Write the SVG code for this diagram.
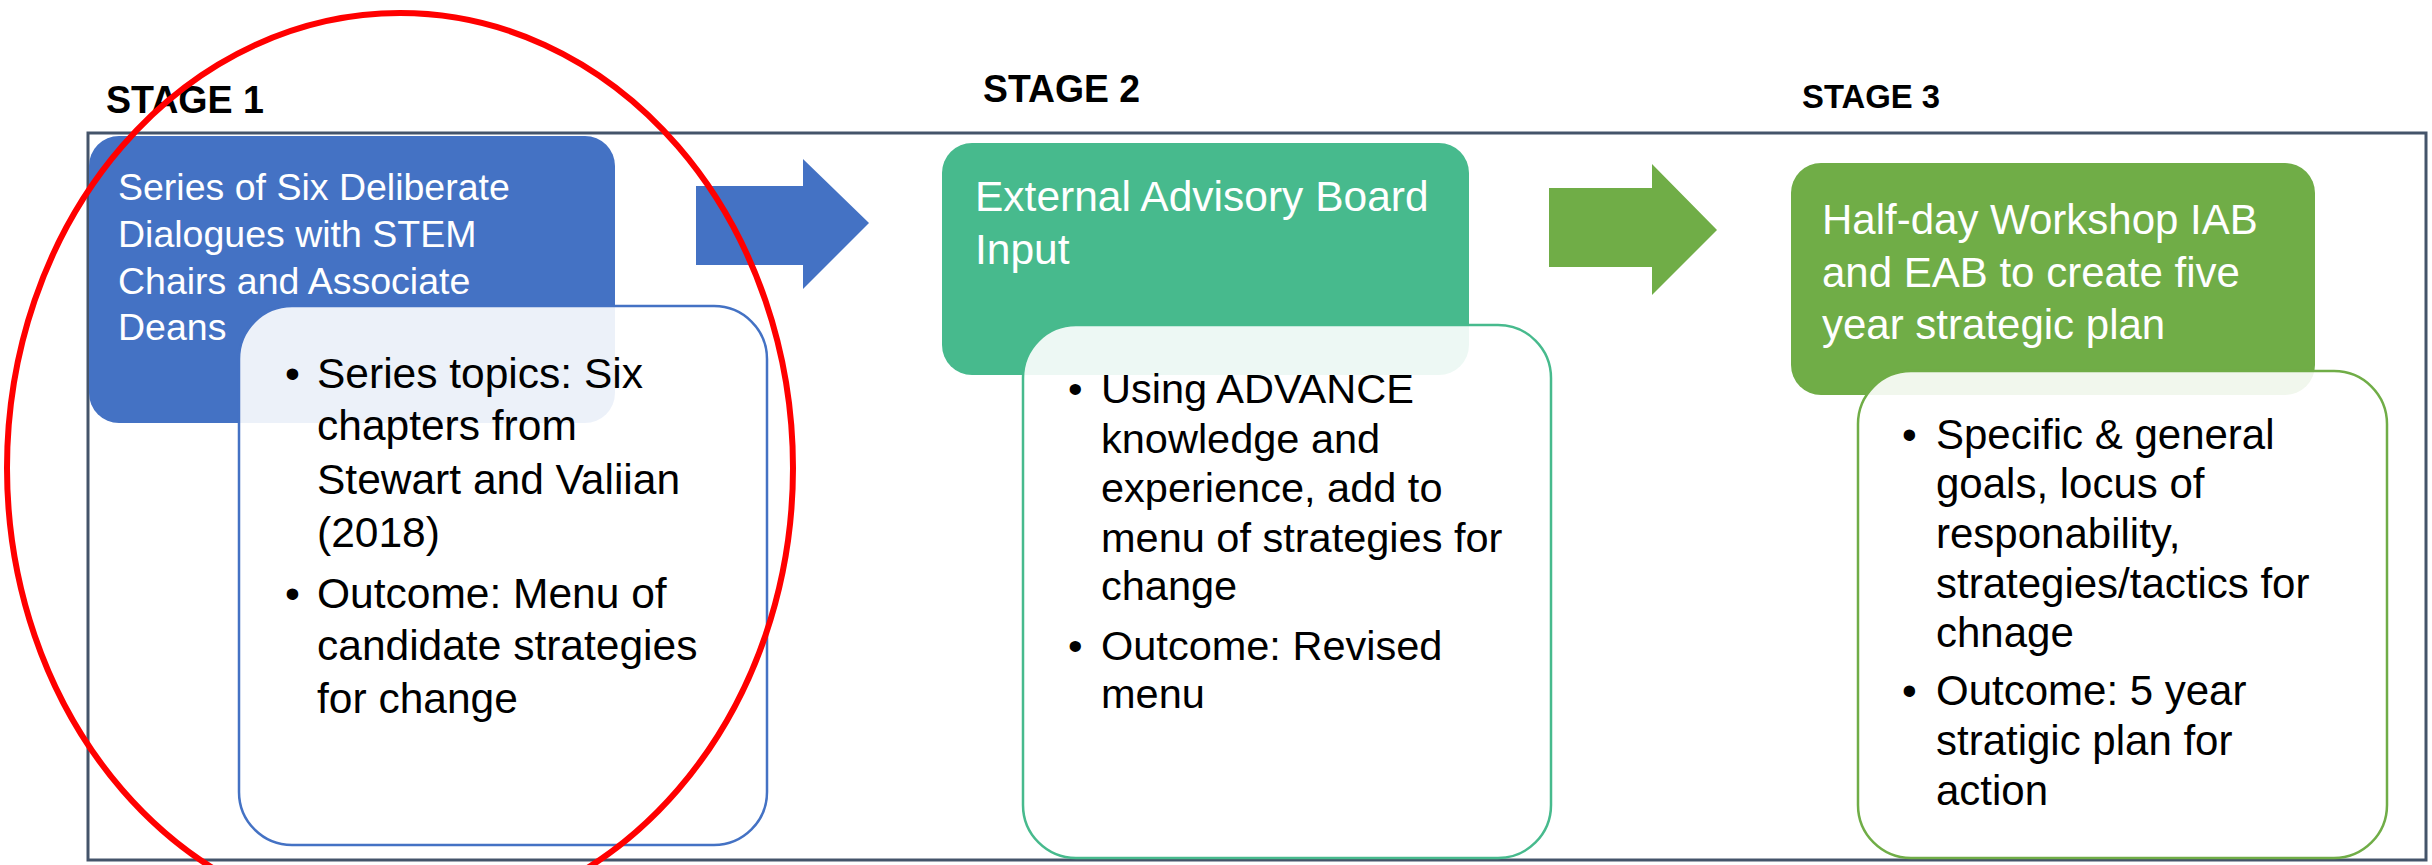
<svg xmlns="http://www.w3.org/2000/svg" width="2432" height="865" viewBox="0 0 2432 865">
<style>
text{font-family:"Liberation Sans",Arial,sans-serif}
.stage{font-weight:bold;fill:#000}
.title{fill:#fff}
.bul{fill:#000}
.frame{fill:#fff;stroke:#44546A;stroke-width:3}
</style>
<rect width="2432" height="865" fill="#fff"/>
<rect class="frame" x="88" y="133" width="2338" height="727"/>
<g id="labels">
<text class="stage" x="106" y="113" font-size="38" textLength="158" lengthAdjust="spacingAndGlyphs">STAGE 1</text>
<text class="stage" x="983" y="102" font-size="38" textLength="157" lengthAdjust="spacingAndGlyphs">STAGE 2</text>
<text class="stage" x="1802" y="108" font-size="33" textLength="138" lengthAdjust="spacingAndGlyphs">STAGE 3</text>
</g>
<g id="stage1">
<rect x="89" y="136" width="526" height="287" rx="30" fill="#4472C4"/>
<g font-size="37.5">
<text class="title" x="118" y="200">Series of Six Deliberate</text>
<text class="title" x="118" y="247">Dialogues with STEM</text>
<text class="title" x="118" y="294">Chairs and Associate</text>
<text class="title" x="118" y="340">Deans</text>
</g>
</g>
<g id="stage1-detail">
<rect x="239" y="306" width="528" height="539" rx="53" fill="#fff" fill-opacity="0.9" stroke="#4472C4" stroke-width="2.5"/>
<g font-size="42.5">
<text class="bul" x="285" y="388">•</text>
<text class="bul" x="317" y="388">Series topics: Six</text>
<text class="bul" x="317" y="440">chapters from</text>
<text class="bul" x="317" y="494">Stewart and Valiian</text>
<text class="bul" x="317" y="547">(2018)</text>
<text class="bul" x="285" y="608">•</text>
<text class="bul" x="317" y="608">Outcome: Menu of</text>
<text class="bul" x="317" y="660">candidate strategies</text>
<text class="bul" x="317" y="713">for change</text>
</g>
</g>
<g id="stage2">
<rect x="942" y="143" width="527" height="232" rx="30" fill="#47BA8D"/>
<g font-size="42.5">
<text class="title" x="975" y="211">External Advisory Board</text>
<text class="title" x="975" y="264">Input</text>
</g>
</g>
<g id="stage2-detail">
<rect x="1023" y="325" width="528" height="533" rx="53" fill="#fff" fill-opacity="0.9" stroke="#47BA8D" stroke-width="2.5"/>
<g font-size="41.5">
<text class="bul" x="1068" y="403">•</text>
<text class="bul" x="1101" y="403">Using ADVANCE</text>
<text class="bul" x="1101" y="453">knowledge and</text>
<text class="bul" x="1101" y="502">experience, add to</text>
<text class="bul" x="1101" y="552">menu of strategies for</text>
<text class="bul" x="1101" y="600">change</text>
<text class="bul" x="1068" y="660">•</text>
<text class="bul" x="1101" y="660">Outcome: Revised</text>
<text class="bul" x="1101" y="708">menu</text>
</g>
</g>
<g id="stage3">
<rect x="1791" y="163" width="524" height="232" rx="30" fill="#70AD47"/>
<g font-size="42">
<text class="title" x="1822" y="234">Half-day Workshop IAB</text>
<text class="title" x="1822" y="287">and EAB to create five</text>
<text class="title" x="1822" y="339">year strategic plan</text>
</g>
</g>
<g id="stage3-detail">
<rect x="1858" y="371" width="529" height="487" rx="53" fill="#fff" fill-opacity="0.9" stroke="#70AD47" stroke-width="2.5"/>
<g font-size="42">
<text class="bul" x="1902" y="449">•</text>
<text class="bul" x="1936" y="449">Specific &amp; general</text>
<text class="bul" x="1936" y="498">goals, locus of</text>
<text class="bul" x="1936" y="548">responability,</text>
<text class="bul" x="1936" y="598">strategies/tactics for</text>
<text class="bul" x="1936" y="647">chnage</text>
<text class="bul" x="1902" y="705">•</text>
<text class="bul" x="1936" y="705">Outcome: 5 year</text>
<text class="bul" x="1936" y="755">stratigic plan for</text>
<text class="bul" x="1936" y="805">action</text>
</g>
</g>
<g id="connectors">
<polygon points="696,186 803,186 803,159 869,223 803,289 803,265 696,265" fill="#4472C4"/>
<polygon points="1549,188 1652,188 1652,164 1717,230 1652,295 1652,267 1549,267" fill="#70AD47"/>
</g>
<g id="highlight">
<ellipse cx="400" cy="468" rx="393" ry="455" fill="none" stroke="#FF0000" stroke-width="6"/>
</g>
</svg>
